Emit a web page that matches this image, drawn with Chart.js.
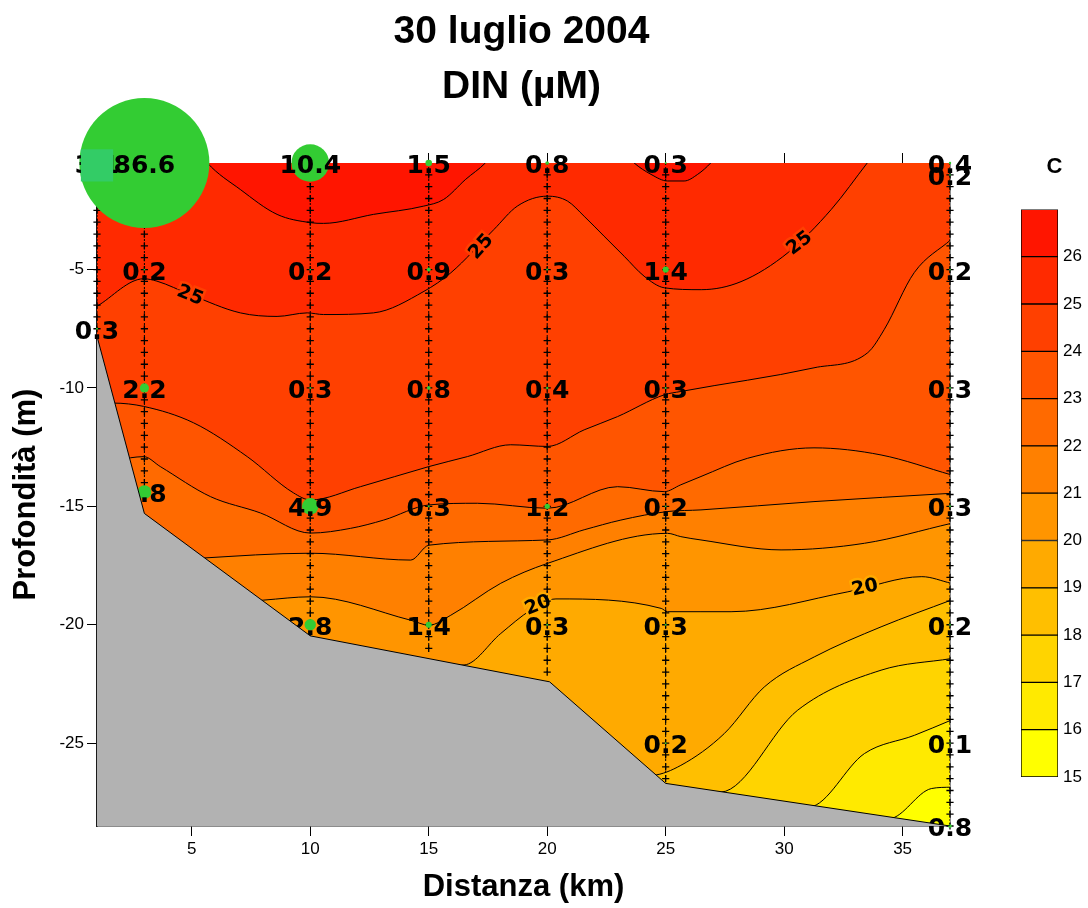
<!DOCTYPE html>
<html>
<head>
<meta charset="utf-8">
<script src="https://cdn.jsdelivr.net/npm/chart.js@4.4.1/dist/chart.umd.min.js"></script>
<style>
  html, body { margin: 0; padding: 0; background: #fff; }
  #wrap { position: relative; width: 1088px; height: 908px; }
  #main { position: absolute; left: 0; top: 0; }
  #bar { position: absolute; left: 1000px; top: 140px; }
</style>
</head>
<body>
<div id="wrap">
  <canvas id="main" width="1088" height="908"></canvas>
  <canvas id="bar" width="88" height="660"></canvas>
</div>
<script>
// axes
const titleLines = ["30 luglio 2004", "DIN (µM)"];
const xTicks = [5, 10, 15, 20, 25, 30, 35];
const yTicks = [-25, -20, -15, -10, -5];
const legendTicks = [15, 16, 17, 18, 19, 20, 21, 22, 23, 24, 25, 26];

// isotherms [km, depth] (parts left of the sea floor run under the terrain)
const iso16 = [[1,-28.6],[34.44,-28.19],[36.21,-26.92],[37.05,-26.86]];
const iso17 = [[1,-28.2],[31.06,-27.7],[33.39,-25.44],[35.5,-24.67],[37.05,-24.03]];
const iso18 = [[1,-27.5],[27.33,-27.07],[30.57,-23.61],[34.09,-21.92],[37.05,-21.43]];
const iso19 = [[1,-27],[24.46,-26.36],[25.64,-25.94],[27.47,-24.6],[29.16,-22.63],[31.27,-21.36],[34.09,-20.09],[37.05,-18.96]];
const iso20 = [[1,-22],[16.49,-21.7],[18.04,-20.37],[19.31,-19.38],[20.37,-18.91],[24.81,-19.31],[25.08,-19.45],[26.49,-19.45],[27.76,-19.45],[32.69,-18.61],[35.81,-17.97],[37.05,-18.25]];
const iso21 = [[1,-19.5],[8.04,-18.96],[10.01,-18.82],[14.24,-19.81],[15.01,-20.02],[15.93,-19.6],[18.04,-18.25],[20.01,-17.41],[25.08,-16.14],[25.64,-16.28],[26.49,-16.42],[29.87,-16.84],[33.39,-16.56],[37.05,-15.72]];
const iso22 = [[1,-17.5],[5.37,-17.19],[10.01,-16.98],[14.24,-17.27],[15.01,-16.64],[20.01,-16.42],[21.56,-15.99],[23.11,-15.58],[25.08,-15.22],[26.49,-15.15],[31.26,-14.8],[37.05,-14.45]];
const iso23 = [[1,-13.2],[2.41,-12.95],[2.97,-12.9],[3.67,-13.32],[5.79,-14.59],[7.9,-15.28],[10.01,-16.13],[11.7,-15.93],[13.1,-15.58],[15.01,-14.94],[17.05,-14.87],[20.01,-15.08],[22.97,-14.17],[24.94,-14.38],[25.64,-14.09],[26.49,-13.74],[28.46,-12.97],[31.26,-12.53],[34.09,-12.83],[37.05,-13.67]];
const iso24 = [[1,-10.8],[1.69,-10.64],[2.97,-10.78],[5.07,-11.47],[7.34,-12.9],[9.29,-14.43],[10.01,-14.73],[12.12,-14.17],[15.01,-13.32],[16.63,-12.9],[18.46,-12.4],[20.01,-12.47],[21.56,-11.77],[22.97,-11.21],[24.94,-10.29],[25.64,-10.15],[31.26,-9.15],[33.53,-8.51],[34.22,-7.54],[35.49,-5.13],[37.05,-3.73]];
const iso25 = [[1,-6.55],[2.97,-5.39],[3.53,-5.49],[4.94,-6.06],[7.05,-6.83],[8.6,-6.98],[9.87,-6.83],[10.56,-6.9],[12.67,-6.83],[14.8,-5.92],[15.93,-5.14],[17.75,-3.31],[18.74,-2.32],[20.01,-1.9],[20.86,-2.11],[21.56,-2.75],[22.4,-3.59],[23.25,-4.44],[24.09,-5.28],[24.94,-5.77],[26.5,-5.85],[28.18,-5.51],[30.17,-4.28],[31.99,-2.46],[33.53,-0.47],[33.9,0],[37,0]];
const iso26 = [[1,0],[5.3,0],[5.65,-0.49],[7.05,-1.62],[8.6,-2.67],[10.01,-3.02],[10.56,-3.05],[12.67,-2.67],[14.79,-2.32],[15.63,-2.04],[16.56,-1.19],[17.4,-0.49],[17.8,0],[23.2,0],[23.66,-0.49],[24.38,-0.98],[25.08,-1.26],[25.78,-1.26],[26.35,-0.98],[26.91,-0.49],[27.3,0],[37,0]];
const isoLevels = [16, 17, 18, 19, 20, 21, 22, 23, 24, 25, 26];
const isotherms = [iso16, iso17, iso18, iso19, iso20, iso21, iso22, iso23, iso24, iso25, iso26];

// contour labels
const contourText = ["25", "25", "25", "20", "20"];
const contourKm = [4.94, 17.19, 30.63, 19.6, 33.4];
const contourDepth = [-6.06, -4.01, -3.86, -19.15, -18.4];
const contourAngle = [22, -48, -38, -22, -12];

// sea floor
const terrain = [[1,-7.82],[3,-15.3],[10,-20.47],[20.1,-22.41],[25,-26.7],[37,-28.5]];

// CTD casts
const stationKm = [1, 3, 10, 15, 20, 25, 37];
const stationBottom = [-7.5, -14, -20.5, -21, -22, -26.5, -28.5];
const castTop = -1;
const castStep = 0.5;

// DIN samples
const dinKm    = [1, 1, 3, 3, 3, 3, 10, 10, 10, 10, 10, 15, 15, 15, 15, 15, 20, 20, 20, 20, 20, 25, 25, 25, 25, 25, 25, 37, 37, 37, 37, 37, 37, 37, 37];
const dinDepth = [-0.5, -7.5, -0.5, -5, -10, -14.4, -0.5, -5, -10, -15, -20, -0.5, -5, -10, -15, -20, -0.5, -5, -10, -15, -20, -0.5, -5, -10, -15, -20, -25, -0.5, -1, -5, -10, -15, -20, -25, -28.5];
const dinValue = [3.1, 0.3, 86.6, 0.2, 2.2, 3.8, 10.4, 0.2, 0.3, 4.9, 2.8, 1.5, 0.9, 0.8, 0.3, 1.4, 0.8, 0.3, 0.4, 1.2, 0.3, 0.3, 1.4, 0.3, 0.2, 0.3, 0.2, 0.4, 0.2, 0.2, 0.3, 0.3, 0.2, 0.1, 0.8];

// styles
const bandColors = ["#FFFF00","#FFEA00","#FFD400","#FFBF00","#FFAA00","#FF9500","#FF8000","#FF6A00","#FF5500","#FF4000","#FF2A00","#FF1500"];
const terrainColor = "#B2B2B2";
const bubbleColor = "#33CC33";
const markerColor = "#33CC66";
const numFont = 'bold 25px "DejaVu Sans"';
const labelFont = 'bold 19px "DejaVu Sans"';
// symbol size scale (value -> radius px)
const sizeStops = [[0, 0.6], [0.4, 1.2], [0.9, 2], [1.5, 3.3], [2.8, 5.7], [4.9, 8.3], [10.4, 18.8], [86.6, 65]];

function bubbleRadius(v) {
  for (let i = 1; i < sizeStops.length; i++) {
    const [v0, r0] = sizeStops[i - 1], [v1, r1] = sizeStops[i];
    if (v <= v1) return r0 + (r1 - r0) * (v - v0) / (v1 - v0);
  }
  return sizeStops[sizeStops.length - 1][1];
}
const toXY = arr => arr.map(p => ({ x: p[0], y: p[1] }));

// cast sample markers, every 0.5 m
const castPoints = [];
stationKm.forEach((km, i) => {
  for (let d = castTop; d >= stationBottom[i] - 0.01; d -= castStep) castPoints.push({ x: km, y: d });
});

const datasets = [];
isoLevels.forEach((t, i) => {
  datasets.push({
    type: "line", label: "T" + t, data: toXY(isotherms[i]),
    fill: "end", backgroundColor: bandColors[t - 15],
    borderColor: "#000", borderWidth: 1, pointRadius: 0,
    cubicInterpolationMode: "monotone", order: 60 - i
  });
});
stationKm.forEach((km, i) => {
  datasets.push({
    type: "line", label: "cast" + km,
    data: [{ x: km, y: -0.5 }, { x: km, y: stationBottom[i] }],
    borderColor: "#000", borderWidth: 1, borderDash: [2, 2], pointRadius: 0, fill: false, order: 40
  });
});
datasets.push({
  type: "scatter", label: "samples", data: castPoints,
  pointStyle: "cross", pointRadius: 3.6, borderColor: "#000", borderWidth: 1.3, clip: false, order: 39
});
datasets.push({
  type: "bubble", label: "DIN",
  data: dinKm.map((x, i) => ({ x, y: dinDepth[i], r: bubbleRadius(dinValue[i]) })),
  backgroundColor: bubbleColor, borderWidth: 0, clip: false, order: 30
});
datasets.push({
  type: "scatter", label: "marker", data: [{ x: 1, y: -0.6 }],
  pointStyle: "rect", pointRadius: 22.8, backgroundColor: markerColor, borderWidth: 0, clip: false, order: 20
});
datasets.push({
  type: "line", label: "terrain", data: toXY(terrain),
  fill: "start", backgroundColor: terrainColor, borderColor: "#000", borderWidth: 1,
  pointRadius: 0, tension: 0, order: 10
});

const areaBg = {
  id: "areaBg",
  beforeDatasetsDraw(chart) {
    const { ctx, chartArea: a } = chart;
    ctx.save();
    ctx.fillStyle = bandColors[0];
    ctx.fillRect(a.left, a.top, a.right - a.left, a.bottom - a.top);
    ctx.restore();
  }
};

const textLayers = {
  id: "textLayers",
  afterDatasetDraw(chart, args) {
    const ds = chart.data.datasets[args.index];
    const { ctx } = chart;
    if (ds.label === "T26") {
      const xs = chart.scales.x, ys = chart.scales.y;
      ctx.save();
      ctx.font = labelFont;
      ctx.textAlign = "center";
      ctx.textBaseline = "middle";
      contourText.forEach((t, i) => {
        ctx.save();
        ctx.translate(xs.getPixelForValue(contourKm[i]), ys.getPixelForValue(contourDepth[i]));
        ctx.rotate(contourAngle[i] * Math.PI / 180);
        ctx.lineWidth = 5;
        ctx.strokeStyle = bandColors[Number(t) - 16];
        ctx.strokeText(t, 0, 1);
        ctx.fillStyle = "#000";
        ctx.fillText(t, 0, 1);
        ctx.restore();
      });
      ctx.restore();
    }
    if (ds.label === "DIN") {
      const meta = chart.getDatasetMeta(args.index);
      ctx.save();
      ctx.font = numFont;
      ctx.fillStyle = "#000";
      ctx.textAlign = "center";
      ctx.textBaseline = "alphabetic";
      meta.data.forEach((el, i) => {
        ctx.fillText(dinValue[i].toFixed(1), el.x, el.y + 10);
      });
      ctx.restore();
    }
  }
};

const titles = {
  id: "titles",
  afterDraw(chart) {
    const { ctx, chartArea: a } = chart;
    ctx.save();
    ctx.fillStyle = "#000";
    ctx.font = 'bold 39px "Liberation Sans"';
    ctx.textAlign = "center";
    ctx.textBaseline = "middle";
    titleLines.forEach((t, i) => ctx.fillText(t, (a.left + a.right) / 2 - 2, 32 + i * 55));
    ctx.restore();
  }
};

const tickFont = { family: "Liberation Sans", size: 17 };
const axisTitleFont = { family: "Liberation Sans", size: 31, weight: "bold", lineHeight: 1 };

new Chart(document.getElementById("main"), {
  type: "line",
  data: { datasets },
  options: {
    responsive: false,
    animation: false,
    events: [],
    layout: { padding: { left: 0, right: 138, top: 0, bottom: 0 } },
    plugins: { legend: { display: false }, tooltip: { enabled: false } },
    scales: {
      x: {
        type: "linear", position: "bottom", min: 1, max: 37, z: 1,
        afterBuildTicks: s => { s.ticks = xTicks.map(v => ({ value: v })); },
        afterFit: s => { s.height = 82; },
        ticks: { color: "#000", font: tickFont, padding: 3, maxRotation: 0 },
        grid: { drawOnChartArea: false, drawTicks: true, tickLength: 10, color: "#000" },
        border: { display: true, color: "#1a1a1a", width: 1.5 },
        title: { display: true, text: "Distanza (km)", color: "#000", font: axisTitleFont, padding: { top: 0, bottom: 5 } }
      },
      x2: {
        type: "linear", position: "top", min: 1, max: 37,
        afterBuildTicks: s => { s.ticks = xTicks.map(v => ({ value: v })); },
        afterFit: s => { s.height = 163; },
        ticks: { display: false },
        grid: { drawOnChartArea: false, drawTicks: true, tickLength: 10, color: "#000" },
        border: { display: true, color: "#444", width: 1 }
      },
      y: {
        type: "linear", position: "left", min: -28.5, max: -0.5, z: 1,
        afterBuildTicks: s => { s.ticks = yTicks.map(v => ({ value: v })); },
        afterFit: s => { s.width = 97; },
        ticks: { color: "#000", font: tickFont, padding: 3 },
        grid: { drawOnChartArea: false, drawTicks: true, tickLength: 10, color: "#000" },
        border: { display: true, color: "#1a1a1a", width: 1.5 },
        title: { display: true, text: "Profondità (m)", color: "#000", font: axisTitleFont, padding: { top: 11, bottom: 0 } }
      },
      y2: {
        type: "linear", position: "right", min: -28.5, max: -0.5, z: 1,
        afterBuildTicks: s => { s.ticks = []; },
        afterFit: s => { s.width = 0; },
        ticks: { display: false },
        grid: { display: false, drawTicks: false },
        border: { display: true, color: "#1a1a1a", width: 1.5 }
      }
    }
  },
  plugins: [areaBg, textLayers, titles]
});

// colour scale
new Chart(document.getElementById("bar"), {
  type: "bar",
  data: {
    labels: ["C"],
    datasets: legendTicks.map((t, i) => ({
      data: [[t, t + 1]], backgroundColor: bandColors[i],
      borderColor: "#000", borderWidth: 1, borderSkipped: false,
      barPercentage: 1, categoryPercentage: 1, grouped: false
    }))
  },
  options: {
    responsive: false,
    animation: false,
    events: [],
    layout: { padding: { left: 21, right: 0, top: 0, bottom: 23 } },
    plugins: {
      legend: { display: false },
      tooltip: { enabled: false },
      title: { display: true, text: "C", color: "#000", font: { family: "Liberation Sans", size: 22, weight: "bold" }, padding: { top: 14, bottom: 29 } }
    },
    scales: {
      x: { display: false },
      y: {
        position: "right", min: 15, max: 27,
        afterBuildTicks: s => { s.ticks = legendTicks.map(v => ({ value: v })); },
        afterFit: s => { s.width = 30; },
        ticks: { color: "#000", font: tickFont, padding: 5 },
        grid: { display: false, drawTicks: false },
        border: { display: false }
      }
    }
  }
});
</script>
</body>
</html>
